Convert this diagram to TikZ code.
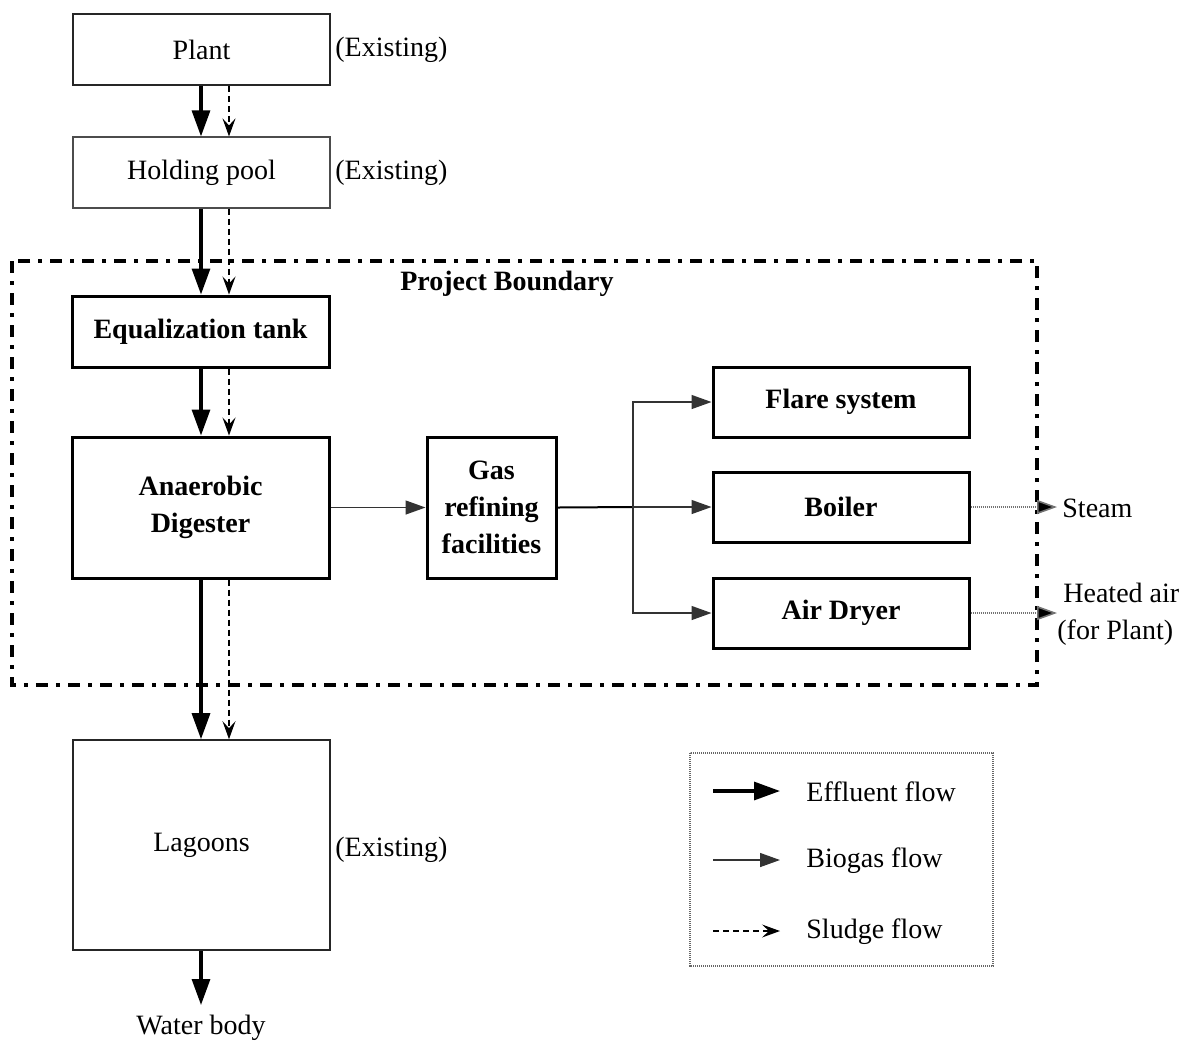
\documentclass[tikz,border=0pt]{standalone}
\usepackage{fontspec}
\setmainfont{Liberation Serif}
\usetikzlibrary{arrows.meta}
\begin{document}
\begin{tikzpicture}[x=0.5pt,y=-0.5pt,
  font=\fontsize{14}{18.5}\selectfont,
  box/.style={draw=black!85,line width=0.8pt,rectangle,inner sep=0pt,align=center},
  pbox/.style={draw=black,line width=1.5pt,rectangle,inner sep=0pt,align=center,font=\fontsize{14}{18.5}\selectfont\bfseries},
  lbl/.style={inner sep=0pt,anchor=west},
  effluent/.style={draw=black,line width=1.6pt,-{Triangle[length=13pt,width=9pt]}},
  biogas/.style={draw=black!80,line width=0.7pt,-{Triangle[length=10pt,width=7pt]}},
  sludge/.style={draw=black,line width=0.6pt,dash pattern=on 3pt off 2pt,-{Stealth[length=9pt,width=6.5pt,inset=3.5pt]}},
  product/.style={draw=black!55,line width=0.8pt,dash pattern=on 0.6pt off 0.4pt,-{Triangle[length=10pt,width=7pt,fill=black]}},
  ]
\useasboundingbox (0,0) rectangle (1184,1041);

% existing units
\node[box,minimum width=128.5pt,minimum height=35.5pt] (plant) at (201.5,49.5) {Plant};
\node[box,draw=black!70,line width=0.6pt,minimum width=128.5pt,minimum height=35.5pt] (hold) at (201.5,172.5) {Holding pool};
\node[box,minimum width=128.5pt,minimum height=105pt] (lagoon) at (201.5,845) {Lagoons};
\node[lbl] (ex1) at (335,50) {(Existing)};
\node[lbl] (ex2) at (335,173) {(Existing)};
\node[lbl] (ex3) at (335,850) {(Existing)};

% project boundary
\draw[line width=1.6pt,dash pattern=on 6pt off 4pt on 2pt off 4pt] (12,261) rectangle (1037,685);
\node[font=\fontsize{14}{18.5}\selectfont\bfseries,inner sep=0pt] (pb) at (507,284) {Project Boundary};

% project units
\node[pbox,minimum width=128.5pt,minimum height=35.5pt] (equal) at (200.5,331.5) {Equalization tank};
\node[pbox,minimum width=128.5pt,minimum height=70.5pt] (digest) at (200.5,507.5) {Anaerobic\\Digester};
\node[pbox,minimum width=64.5pt,minimum height=70.5pt] (gas) at (491.5,507.5) {Gas\\refining\\facilities};
\node[pbox,minimum width=128pt,minimum height=35pt] (flare) at (841,402) {Flare system};
\node[pbox,minimum width=128pt,minimum height=35pt] (boiler) at (841,507) {Boiler};
\node[pbox,minimum width=128pt,minimum height=35pt] (dryer) at (841,613) {Air Dryer};

% effluent and sludge flows
\draw[effluent] (plant.south -| 201,0) -- (hold.north -| 201,0);
\draw[sludge] (plant.south -| 229,0) -- (hold.north -| 229,0);
\draw[effluent] (hold.south -| 201,0) -- (equal.north -| 201,0);
\draw[sludge] (hold.south -| 229,0) -- (equal.north -| 229,0);
\draw[effluent] (equal.south -| 201,0) -- (digest.north -| 201,0);
\draw[sludge] (equal.south -| 229,0) -- (digest.north -| 229,0);
\draw[effluent] (digest.south -| 201,0) -- (lagoon.north -| 201,0);
\draw[sludge] (digest.south -| 229,0) -- (lagoon.north -| 229,0);
\coordinate (wb) at (201,1005);
\draw[effluent] (lagoon.south -| 201,0) -- (wb);
\node[inner sep=0pt] (water) at (201,1028) {Water body};

% biogas flows
\draw[biogas] (digest.east) -- (gas.west);
\coordinate (split) at (633,507);
\draw[black,line width=1pt] (gas.east) -- (split);
\draw[biogas] (split) -- (boiler.west);
\draw[biogas] (split) |- (flare.west);
\draw[biogas] (split) |- (dryer.west);

% products
\coordinate (st) at (1057,507);
\coordinate (ha) at (1057,613);
\draw[product] (boiler.east) -- (st);
\draw[product] (dryer.east) -- (ha);
\node[lbl] (steam) at (1062,508) {Steam};
\node[lbl,align=left] (heated) at (1057,614) {\hspace{3pt}Heated air\\(for Plant)};

% legend
\draw[draw=black!60,line width=0.8pt,dash pattern=on 0.6pt off 0.4pt] (690,753) rectangle (993,966);
\coordinate (l1a) at (713,791); \coordinate (l1b) at (780,791);
\coordinate (l2a) at (713,860); \coordinate (l2b) at (780,860);
\coordinate (l3a) at (713,931); \coordinate (l3b) at (780,931);
\draw[effluent] (l1a) -- (l1b);
\draw[biogas] (l2a) -- (l2b);
\draw[sludge] (l3a) -- (l3b);
\node[lbl] (t1) at (806,792) {Effluent flow};
\node[lbl] (t2) at (806,861) {Biogas flow};
\node[lbl] (t3) at (806,932) {Sludge flow};
\end{tikzpicture}
\end{document}
